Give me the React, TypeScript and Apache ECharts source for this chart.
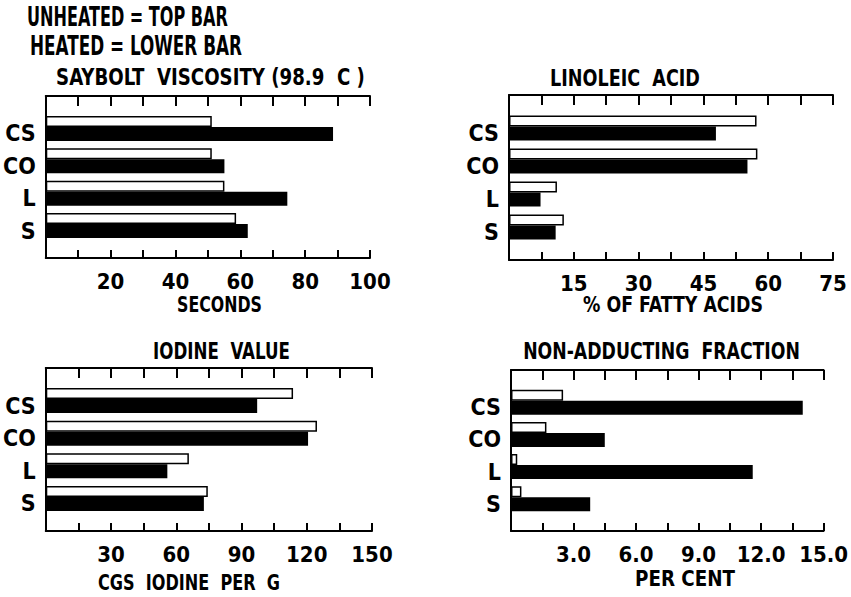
import React, { useEffect, useRef } from 'react';
import * as echarts from 'echarts';

const categories = ['CS', 'CO', 'L', 'S'];

const viscosityUnheated = [51.2, 51.2, 55.1, 58.7];
const viscosityHeated = [88.6, 55.1, 74.5, 62.3];
const viscosityTicks = [20, 40, 60, 80, 100];

const linoleicUnheated = [57.3, 57.5, 11.1, 12.7];
const linoleicHeated = [47.9, 55.2, 7.3, 10.8];
const linoleicTicks = [15, 30, 45, 60, 75];

const iodineUnheated = [113.7, 124.7, 65.8, 74.5];
const iodineHeated = [97.2, 120.6, 55.9, 72.7];
const iodineTicks = [30, 60, 90, 120, 150];

const nonAdductUnheated = [2.5, 1.7, 0.3, 0.5];
const nonAdductHeated = [14.0, 4.5, 11.6, 3.8];
const nonAdductTicks = [3, 6, 9, 12, 15];

const FONT = "'DejaVu Sans Condensed', 'DejaVu Sans', sans-serif";
const FS = 22;

const panels = [
  {
    title: 'SAYBOLT  VISCOSITY (98.9  C )', titleX: 210.5, titleY: 77, titleW: 309,
    axisName: 'SECONDS', nameX: 219.5, nameY: 305, nameW: 85,
    unheated: viscosityUnheated, heated: viscosityHeated,
    max: 100, interval: 10, ticks: viscosityTicks, decimals: 0,
    grid: { left: 43, top: 96, width: 327, height: 162 },
  },
  {
    title: 'LINOLEIC  ACID', titleX: 625, titleY: 78, titleW: 150,
    axisName: '% OF FATTY ACIDS', nameX: 673, nameY: 305, nameW: 180,
    unheated: linoleicUnheated, heated: linoleicHeated,
    max: 75, interval: 7.5, ticks: linoleicTicks, decimals: 0,
    grid: { left: 509, top: 95, width: 324, height: 165 },
  },
  {
    title: 'IODINE  VALUE', titleX: 221.5, titleY: 351, titleW: 137,
    axisName: 'CGS  IODINE  PER  G', nameX: 189, nameY: 582.5, nameW: 182,
    unheated: iodineUnheated, heated: iodineHeated,
    max: 150, interval: 15, ticks: iodineTicks, decimals: 0,
    grid: { left: 45, top: 368, width: 327, height: 163 },
  },
  {
    title: 'NON-ADDUCTING  FRACTION', titleX: 661.5, titleY: 351, titleW: 277,
    axisName: 'PER CENT', nameX: 685, nameY: 578.5, nameW: 100,
    unheated: nonAdductUnheated, heated: nonAdductHeated,
    max: 15, interval: 1.5, ticks: nonAdductTicks, decimals: 1,
    grid: { left: 511, top: 370, width: 322, height: 161 },
  },
];

const headerLines = [
  { text: 'UNHEATED = TOP BAR', x: 27, y: 17, w: 201 },
  { text: 'HEATED = LOWER BAR', x: 30, y: 45.5, w: 212 },
];

let measureCtx: CanvasRenderingContext2D | null = null;
function fitScale(text: string, font: string, target: number) {
  if (!measureCtx) measureCtx = document.createElement('canvas').getContext('2d');
  if (!measureCtx) return 1;
  measureCtx.font = font;
  const w = measureCtx.measureText(text).width;
  return w > 0 ? target / w : 1;
}

function fittedText(text: string, x: number, y: number, w: number, size: number, align: string) {
  const font = `bold ${size}px ${FONT}`;
  return {
    type: 'text', x, y, scaleX: fitScale(text, font, w),
    style: { text, fill: '#000', font, textAlign: align, textVerticalAlign: 'middle' },
  };
}

function buildOption() {
  const grid: any[] = [];
  const xAxis: any[] = [];
  const yAxis: any[] = [];
  const series: any[] = [];
  const graphic: any[] = [];
  const black = '#000';

  panels.forEach((p, i) => {
    grid.push({ ...p.grid, containLabel: false });
    const common = {
      type: 'value', gridIndex: i, min: 0, max: p.max, interval: p.interval,
      splitLine: { show: false },
      axisLine: { show: true, lineStyle: { color: black, width: 2 } },
    };
    xAxis.push({
      ...common, position: 'bottom',
      axisTick: { show: true, inside: true, length: 8, lineStyle: { color: black, width: 2 } },
      axisLabel: {
        show: true, color: black, fontSize: FS, fontWeight: 'bold', fontFamily: FONT, margin: 12,
        formatter: (v: number) => {
          const r = Math.round(v * 100) / 100;
          return p.ticks.indexOf(r) >= 0 ? r.toFixed(p.decimals) : '';
        },
      },
    });
    xAxis.push({
      ...common, position: 'top',
      axisTick: { show: true, inside: true, length: 10, lineStyle: { color: black, width: 2 } },
      axisLabel: { show: false },
    });
    yAxis.push({
      type: 'category', gridIndex: i, inverse: true, boundaryGap: false,
      data: ['', ...categories, ''],
      axisLine: { show: true, lineStyle: { color: black, width: 2 } },
      axisTick: { show: false },
      splitLine: { show: false },
      axisLabel: {
        interval: 0, color: black, fontSize: 23, fontWeight: 'bold', fontFamily: FONT, margin: 10,
        verticalAlign: 'top', lineHeight: 10,
      },
    });
    series.push({
      type: 'bar', name: 'Unheated', xAxisIndex: i * 2, yAxisIndex: i,
      data: [null, ...p.unheated, null], barWidth: 11, barGap: '0%',
      itemStyle: { color: '#fff', borderColor: black, borderWidth: 1.5 },
    });
    series.push({
      type: 'bar', name: 'Heated', xAxisIndex: i * 2, yAxisIndex: i,
      data: [null, ...p.heated, null], barWidth: 14, barGap: '0%',
      itemStyle: { color: black },
    });
    graphic.push(fittedText(p.title, p.titleX, p.titleY, p.titleW, 23, 'center'));
    graphic.push(fittedText(p.axisName, p.nameX, p.nameY, p.nameW, 22, 'center'));
  });

  headerLines.forEach((h) => {
    graphic.push(fittedText(h.text, h.x, h.y, h.w, 26, 'left'));
  });

  return {
    animation: false,
    backgroundColor: '#fff',
    grid, xAxis, yAxis, series, graphic,
  };
}

export default function App() {
  const ref = useRef<HTMLDivElement>(null);
  useEffect(() => {
    if (!ref.current) return;
    const chart = echarts.init(ref.current, null, { renderer: 'svg' });
    chart.setOption(buildOption() as any);
    return () => chart.dispose();
  }, []);
  return <div ref={ref} style={{ position: 'fixed', left: 0, top: 0, width: 851, height: 597 }} />;
}
